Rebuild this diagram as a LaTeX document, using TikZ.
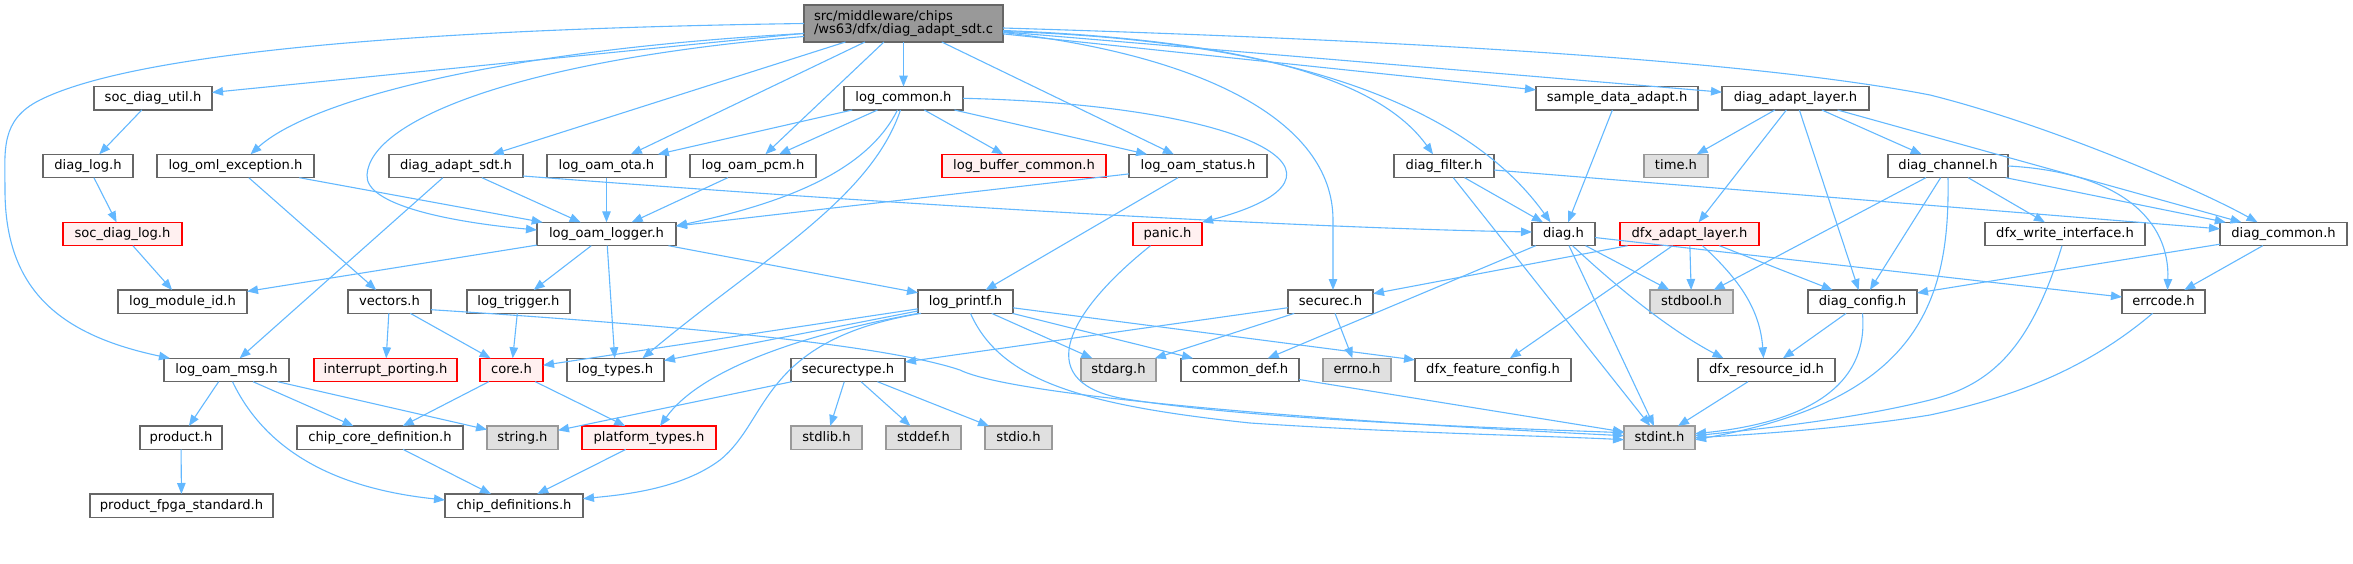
\documentclass[tikz,border=0pt]{standalone}
\usepackage{fontspec}
\setmainfont{DejaVu Sans}
\usetikzlibrary{arrows.meta}
\definecolor{edgeblue}{HTML}{63B8FF}
\definecolor{bordgray}{HTML}{666666}
\definecolor{sysgray}{HTML}{999999}
\definecolor{sysfill}{HTML}{E0E0E0}
\definecolor{redfill}{HTML}{FFF0F0}
\definecolor{mainfill}{HTML}{999999}
\begin{document}
\begin{tikzpicture}[x=1pt,y=-1pt,font=\fontsize{13.1}{13.7}\selectfont,
  bx/.style={draw=bordgray,fill=white,line width=1.4pt,inner sep=0pt,outer sep=0pt,minimum height=23.4pt,text height=10pt,text depth=3pt},
  sys/.style={bx,draw=sysgray,fill=sysfill},
  trunc/.style={bx,draw=red,fill=redfill},
  mainst/.style={draw=bordgray,fill=mainfill,line width=1.4pt,inner sep=0pt,outer sep=0pt,minimum height=37pt,align=left},
  e/.style={draw=edgeblue,line width=1.1pt,-{Triangle[length=11pt,width=8.5pt]}}]
\useasboundingbox (0,0) rectangle (2353,564);
% row 0
\node[mainst,minimum width=199pt] (main) at (903.5,23.5) {src/middleware/chips\\/ws63/dfx/diag\_adapt\_sdt.c};
% row 1
\node[bx,minimum width=118pt] (socdiagutil) at (153,98.3) {soc\_diag\_util.h};
\node[bx,minimum width=119pt] (logcommon) at (903.5,98.3) {log\_common.h};
\node[bx,minimum width=162pt] (sampledata) at (1617,98.3) {sample\_data\_adapt.h};
\node[bx,minimum width=147pt] (diagadaptlayer) at (1795.5,98.3) {diag\_adapt\_layer.h};
% row 2
\node[bx,minimum width=90pt] (diaglog) at (88,166) {diag\_log.h};
\node[bx,minimum width=157pt] (logoml) at (235.5,166) {log\_oml\_exception.h};
\node[bx,minimum width=134pt] (diagadaptsdt) at (456,166) {diag\_adapt\_sdt.h};
\node[bx,minimum width=119pt] (logoamota) at (606.5,166) {log\_oam\_ota.h};
\node[bx,minimum width=126pt] (logoampcm) at (753,166) {log\_oam\_pcm.h};
\node[trunc,minimum width=164pt] (logbuffer) at (1024,166) {log\_buffer\_common.h};
\node[bx,minimum width=138pt] (logoamstatus) at (1198,166) {log\_oam\_status.h};
\node[bx,minimum width=100pt] (diagfilter) at (1444,166) {diag\_filter.h};
\node[sys,minimum width=64pt] (timeh) at (1676,166) {time.h};
\node[bx,minimum width=120pt] (diagchannel) at (1948,166) {diag\_channel.h};
% row 3
\node[trunc,minimum width=119pt] (socdiaglog) at (122.5,234) {soc\_diag\_log.h};
\node[bx,minimum width=139pt] (logoamlogger) at (606.5,234) {log\_oam\_logger.h};
\node[trunc,minimum width=69pt] (panic) at (1167.5,234) {panic.h};
\node[bx,minimum width=63pt] (diagh) at (1563.5,234) {diag.h};
\node[trunc,minimum width=139pt] (dfxadapt) at (1689.5,234) {dfx\_adapt\_layer.h};
\node[bx,minimum width=160pt] (dfxwrite) at (2065,234) {dfx\_write\_interface.h};
\node[bx,minimum width=127pt] (diagcommon) at (2283.5,234) {diag\_common.h};
% row 4
\node[bx,minimum width=129pt] (logmoduleid) at (182.5,301.7) {log\_module\_id.h};
\node[bx,minimum width=83pt] (vectors) at (389.5,301.7) {vectors.h};
\node[bx,minimum width=103pt] (logtrigger) at (518.5,301.7) {log\_trigger.h};
\node[bx,minimum width=95pt] (logprintf) at (965.5,301.7) {log\_printf.h};
\node[bx,minimum width=85pt] (securec) at (1330.5,301.7) {securec.h};
\node[sys,minimum width=83pt] (stdbool) at (1691.5,301.7) {stdbool.h};
\node[bx,minimum width=109pt] (diagconfig) at (1862.5,301.7) {diag\_config.h};
\node[bx,minimum width=83pt] (errcode) at (2163.5,301.7) {errcode.h};
% row 5
\node[bx,minimum width=125pt] (logoammsg) at (226.5,370) {log\_oam\_msg.h};
\node[trunc,minimum width=143pt] (interrupt) at (385.5,370) {interrupt\_porting.h};
\node[trunc,minimum width=63pt] (core) at (511.5,370) {core.h};
\node[bx,minimum width=97pt] (logtypes) at (615.5,370) {log\_types.h};
\node[bx,minimum width=114pt] (securectype) at (848,370) {securectype.h};
\node[sys,minimum width=75pt] (stdarg) at (1118.5,370) {stdarg.h};
\node[bx,minimum width=118pt] (commondef) at (1240,370) {common\_def.h};
\node[sys,minimum width=68pt] (errno) at (1357,370) {errno.h};
\node[bx,minimum width=156pt] (dfxfeature) at (1493,370) {dfx\_feature\_config.h};
\node[bx,minimum width=137pt] (dfxresource) at (1766.5,370) {dfx\_resource\_id.h};
% row 6
\node[bx,minimum width=82pt] (product) at (181,437.7) {product.h};
\node[bx,minimum width=166pt] (chipcore) at (380,437.7) {chip\_core\_definition.h};
\node[sys,minimum width=71pt] (stringh) at (522.5,437.7) {string.h};
\node[trunc,minimum width=134pt] (platform) at (649,437.7) {platform\_types.h};
\node[sys,minimum width=71pt] (stdlib) at (826.5,437.7) {stdlib.h};
\node[sys,minimum width=75pt] (stddef) at (923.5,437.7) {stddef.h};
\node[sys,minimum width=67pt] (stdio) at (1018.5,437.7) {stdio.h};
\node[sys,minimum width=71pt] (stdint) at (1659.5,437.7) {stdint.h};
% row 7
\node[bx,minimum width=183pt] (productfpga) at (181.5,505.7) {product\_fpga\_standard.h};
\node[bx,minimum width=138pt] (chipdefs) at (514,505.7) {chip\_definitions.h};

% ---- edges from main
\draw[e] (main) -- (socdiagutil);
\draw[e] (main) -- (diagadaptsdt);
\draw[e] (main) -- (logoamota);
\draw[e] (main) -- (logoampcm);
\draw[e] (main) -- (logcommon);
\draw[e] (main) -- (logoamstatus);
\draw[e] (main) -- (sampledata);
\draw[e] (main) -- (diagadaptlayer);
\draw[e] (main.west) .. controls (350,30) and (120,60) .. (40,100) .. controls (0,120) and (5,150) .. (5,190) .. controls (5,290) and (60,335) .. ([xshift=6pt]logoammsg.north west);
\draw[e] ([yshift=-10pt]main.west) .. controls (500,50) and (310,100) .. ([xshift=15pt]logoml.north);
\draw[e] ([yshift=-13pt]main.west) .. controls (520,60) and (370,120) .. (367,175) .. controls (365,205) and (450,222) .. ([yshift=4pt]logoamlogger.west);
\draw[e] ([yshift=-9pt]main.east) .. controls (1200,55) and (1333,120) .. (1333,220) -- ([xshift=2.5pt]securec.north);
\draw[e] ([yshift=-7pt]main.east) .. controls (1250,40) and (1380,80) .. ([xshift=-11pt]diagfilter.north);
\draw[e] ([yshift=-8pt]main.east) .. controls (1300,40) and (1470,110) .. ([xshift=-13pt]diagh.north);
\draw[e] ([yshift=-4.5pt]main.east) .. controls (1400,40) and (1750,60) .. (1930,95) .. controls (2050,125) and (2200,190) .. ([xshift=-26pt]diagcommon.north);
% ---- left part
\draw[e] (socdiagutil) -- (diaglog);
\draw[e] (diaglog) -- (socdiaglog);
\draw[e] (socdiaglog) -- (logmoduleid);
\draw[e] (logoml) -- (vectors);
\draw[e] (logoml) -- (logoamlogger);
\draw[e] (vectors) -- (interrupt);
\draw[e] (vectors) -- (core);
\draw[e] ([yshift=-8pt]vectors.east) .. controls (750,330) and (900,350) .. (960,370) .. controls (1010,395) and (1300,420) .. ([yshift=2pt]stdint.west);
\draw[e] (logoammsg) -- (product);
\draw[e] (logoammsg) -- (chipcore);
\draw[e] (logoammsg) -- (stringh);
\draw[e] ([xshift=6pt]logoammsg.south) .. controls (270,460) and (350,490) .. ([yshift=5.7pt]chipdefs.west);
\draw[e] (product) -- (productfpga);
\draw[e] (chipcore) -- (chipdefs);
\draw[e] (diagadaptsdt) -- (logoamlogger);
\draw[e] (diagadaptsdt) -- (logoammsg);
\draw[e] ([yshift=-10pt]diagadaptsdt.east) .. controls (900,205) and (1300,228) .. ([yshift=2pt]diagh.west);
\draw[e] (logoamota) -- (logoamlogger);
\draw[e] (logoampcm) -- (logoamlogger);
% ---- log_common
\draw[e] (logcommon) -- (logoamota);
\draw[e] (logcommon) -- (logoampcm);
\draw[e] (logcommon) -- (logbuffer);
\draw[e] (logcommon) -- (logoamstatus);
\draw[e] (logcommon.east) .. controls (1250,105) and (1380,175) .. (panic.north east);
\draw[e] ([xshift=-6pt]logcommon.south) .. controls (870,165) and (800,200) .. ([yshift=8pt]logoamlogger.east);
\draw[e] ([xshift=-3pt]logcommon.south) .. controls (870,200) and (760,260) .. ([xshift=27pt]logtypes.north);
% ---- log_oam_logger
\draw[e] (logoamlogger) -- (logmoduleid);
\draw[e] (logoamlogger) -- (logtrigger);
\draw[e] (logoamlogger) -- (logtypes);
\draw[e] (logoamlogger) -- (logprintf);
\draw[e] (logtrigger) -- (core);
\draw[e] (core) -- (chipcore);
\draw[e] (core) -- (platform);
\draw[e] (platform) -- (chipdefs);
\draw[e] (logoamstatus) -- (logoamlogger);
\draw[e] (logoamstatus) -- (logprintf);
% ---- log_printf
\draw[e] (logprintf) -- (core);
\draw[e] (logprintf) -- (logtypes);
\draw[e] (logprintf) -- (stdarg);
\draw[e] (logprintf) -- (commondef);
\draw[e] (logprintf) -- (dfxfeature);
\draw[e] (logprintf.south west) .. controls (800,335) and (700,370) .. ([xshift=11pt]platform.north);
\draw[e] ([xshift=3pt]logprintf.south west) .. controls (760,340) and (770,420) .. (720,460) .. controls (680,490) and (620,495) .. ([yshift=7pt]chipdefs.east);
\draw[e] ([xshift=5pt]logprintf.south) .. controls (1000,380) and (1080,405) .. (1250,423) .. controls (1400,433) and (1550,436) .. ([yshift=-2pt]stdint.west);
\draw[e] ([xshift=-17pt]panic.south) .. controls (1070,310) and (1030,380) .. (1120,398) .. controls (1250,420) and (1500,428) .. ([yshift=5pt]stdint.west);
% ---- securec
\draw[e] (securec) -- (securectype);
\draw[e] (securec) -- (stdarg);
\draw[e] (securec) -- (errno);
\draw[e] (securectype) -- (stringh);
\draw[e] (securectype) -- (stdlib);
\draw[e] (securectype) -- (stddef);
\draw[e] (securectype) -- (stdio);
\draw[e] (commondef) -- (stdint);
% ---- diag
\draw[e] (diagfilter) -- (diagh);
\draw[e] (diagfilter) -- (stdint);
\draw[e] (diagfilter) -- (diagcommon);
\draw[e] (sampledata) -- (diagh);
\draw[e] (diagh) -- (commondef);
\draw[e] (diagh) -- (stdbool);
\draw[e] (diagh) -- (stdint);
\draw[e] (diagh) -- (errcode);
\draw[e] ([xshift=9pt]diagh.south) .. controls (1620,290) and (1670,330) .. ([xshift=-43pt]dfxresource.north);
\draw[e] (dfxadapt) -- (securec);
\draw[e] (dfxadapt) -- (dfxfeature);
\draw[e] (dfxadapt) -- (stdbool);
\draw[e] (dfxadapt) -- (diagconfig);
\draw[e] ([xshift=13pt]dfxadapt.south) .. controls (1740,280) and (1760,310) .. ([xshift=-3pt]dfxresource.north);
\draw[e] (diagadaptlayer) -- (timeh);
\draw[e] (diagadaptlayer) -- (dfxadapt);
\draw[e] (diagadaptlayer) -- (diagconfig);
\draw[e] (diagadaptlayer) -- (diagchannel);
\draw[e] (diagadaptlayer) -- (diagcommon);
\draw[e] (diagchannel) -- (stdbool);
\draw[e] (diagchannel) -- (diagconfig);
\draw[e] (diagchannel) -- (dfxwrite);
\draw[e] (diagchannel) -- (diagcommon);
\draw[e] (diagchannel.south) .. controls (1950,300) and (1920,400) .. ([yshift=-2pt]stdint.east);
\draw[e] (diagchannel.east) .. controls (2120,172) and (2170,220) .. ([xshift=4pt]errcode.north);
\draw[e] ([xshift=-3pt]dfxwrite.south) .. controls (2030,350) and (1990,385) .. (1930,400) .. controls (1850,420) and (1750,430) .. ([yshift=2pt]stdint.east);
\draw[e] ([xshift=-11pt]errcode.south) .. controls (2080,375) and (2000,400) .. (1930,415) .. controls (1850,428) and (1760,434) .. (stdint.east);
\draw[e] (diagconfig.south) .. controls (1870,400) and (1780,425) .. ([yshift=4pt]stdint.east);
\draw[e] (diagconfig) -- (dfxresource);
\draw[e] (dfxresource) -- (stdint);
\draw[e] (diagcommon) -- (diagconfig);
\draw[e] (diagcommon) -- (errcode);
\end{tikzpicture}
\end{document}
